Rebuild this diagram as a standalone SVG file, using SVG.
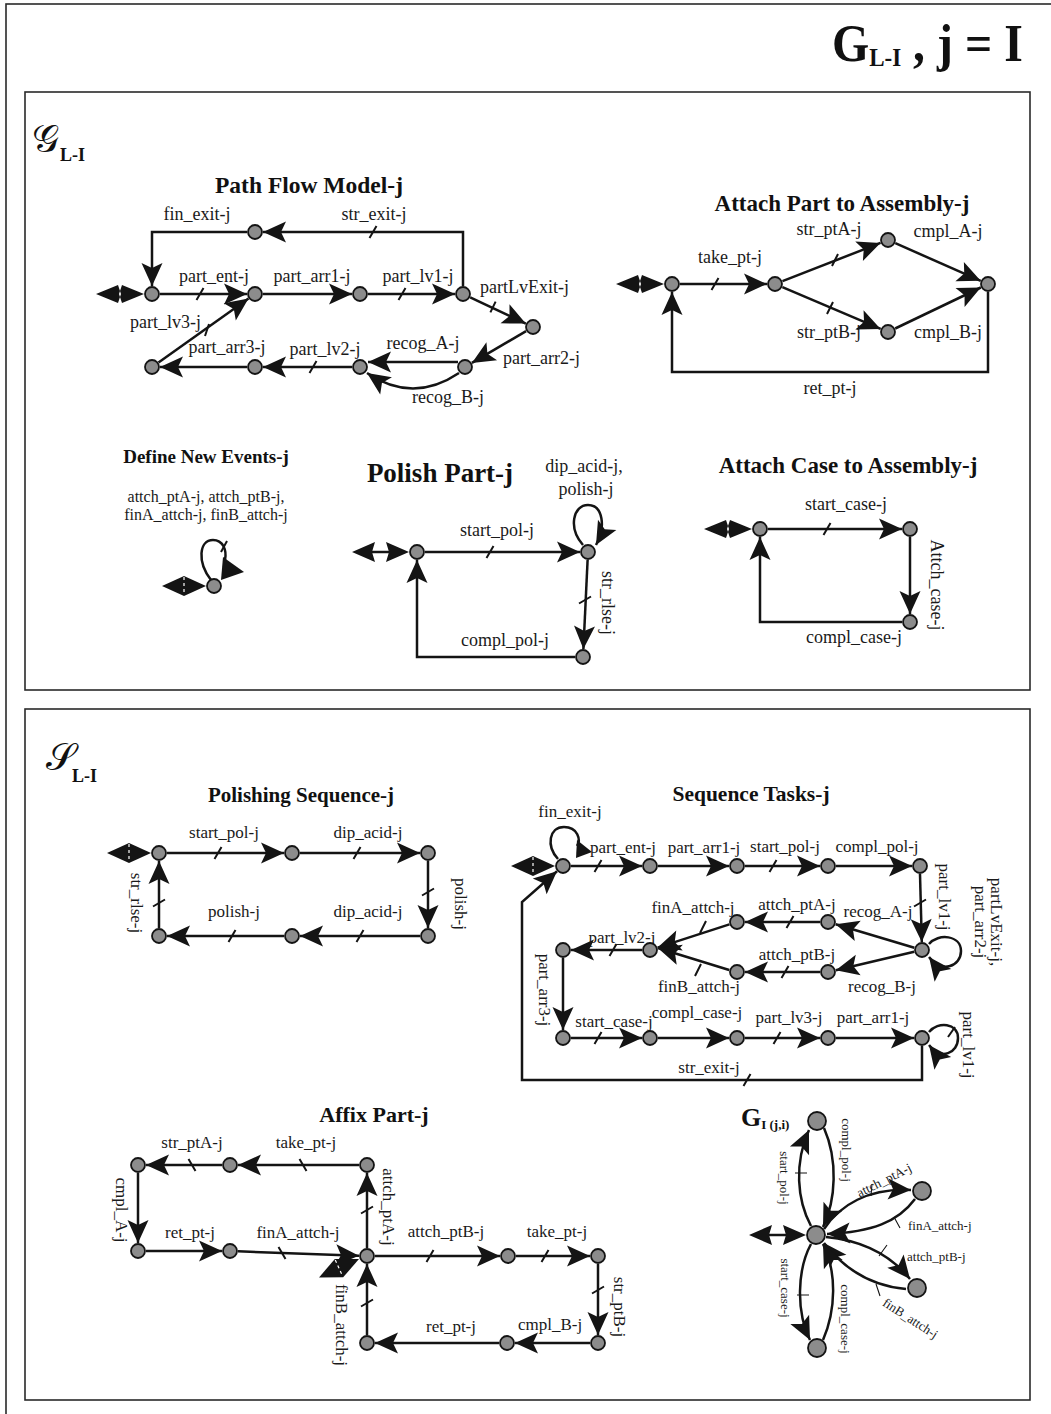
<svg xmlns="http://www.w3.org/2000/svg" width="1051" height="1414" viewBox="0 0 1051 1414">
<defs>
<style>
.ln{fill:none;stroke:#141414;stroke-width:2.5}
.tk{fill:none;stroke:#141414;stroke-width:2}
.tk1{fill:none;stroke:#141414;stroke-width:1.1}
.nd{fill:#8c8c8c;stroke:#141414;stroke-width:1.8}
.lb{font-family:"Liberation Serif","Times New Roman",serif;font-size:18px;fill:#1a1a1a}
.s17{font-size:17px}
.s16{font-size:16px}
.s13{font-size:13px}
.ti{font-family:"Liberation Serif","Times New Roman",serif;font-weight:bold;fill:#111}
.box{fill:none;stroke:#2a2a2a;stroke-width:1.6}
.m{text-anchor:middle}
.ah{fill:#141414}
</style>
<marker id="ar" markerUnits="userSpaceOnUse" markerWidth="26" markerHeight="24" viewBox="-24 -12 26 24" refX="0" refY="0" orient="auto">
<path d="M0,0 L-23,-10.5 L-18,0 L-23,10.5 Z" fill="#141414"/>
</marker>
<g id="i1"><path d="M0,0 L-22,-9 L-25,0 L-22,9 Z M-48,0 L-26,-9 L-23,0 L-26,9 Z" fill="#141414"/></g>
<g id="i2"><path d="M-57,0 L-34,-10 L-37,0 L-34,10 Z M0,0 L-23,-10 L-20,0 L-23,10 Z" fill="#141414"/><path d="M-37,0 H-20" stroke="#141414" stroke-width="2.5"/></g>
<g id="i3"><path d="M0,0 L-22,-10 L-44,0 L-22,10 Z" fill="#141414"/><path d="M-22,-9 V9" stroke="#fff" stroke-width="1.2" stroke-dasharray="3 3"/></g>
</defs>
<rect width="1051" height="1414" fill="#fff"/>

<g id="frames">
<rect class="box" x="6" y="4" width="1060" height="1420"/>
<rect class="box" x="25" y="92" width="1005" height="598"/>
<rect class="box" x="25" y="709" width="1005" height="691"/>
</g>

<g id="titles">
<g transform="translate(832,61) scale(0.92,1)">
<text class="ti" style="font-size:52px" x="0" y="0">G<tspan style="font-size:25px" dy="5">L-I</tspan><tspan dy="-5"> , j = I</tspan></text>
</g>
<text class="ti" x="32" y="152" style="font-size:38px;font-weight:normal;font-family:'DejaVu Serif','Liberation Serif',serif">𝒢</text>
<text class="ti" x="60" y="161" style="font-size:18px">L-I</text>
<text class="ti" x="46" y="770" style="font-size:38px;font-weight:normal;font-family:'DejaVu Serif','Liberation Serif',serif">𝒮</text>
<text class="ti" x="72" y="782" style="font-size:18px">L-I</text>
<text class="ti m" x="309" y="193" style="font-size:23.5px">Path Flow Model-j</text>
<text class="ti m" x="842" y="211" style="font-size:23px">Attach Part to Assembly-j</text>
<text class="ti m" x="206" y="463" style="font-size:19px">Define New Events-j</text>
<text class="ti m" x="440" y="482" style="font-size:27px">Polish Part-j</text>
<text class="ti m" x="848" y="473" style="font-size:23px">Attach Case to Assembly-j</text>
<text class="ti m" x="301" y="802" style="font-size:21px">Polishing Sequence-j</text>
<text class="ti m" x="751" y="801" style="font-size:21.5px">Sequence Tasks-j</text>
<text class="ti m" x="374" y="1122" style="font-size:22px">Affix Part-j</text>
<text class="ti" x="741" y="1126" style="font-size:26px">G<tspan style="font-size:13px" dy="3">I (j,i)</tspan></text>
</g>

<g id="connectors">
<!-- Path Flow Model -->
<use href="#i1" x="144" y="294"/>
<path class="ln" d="M160,294 H247" marker-end="url(#ar)"/>
<path class="ln" d="M263,294 H352" marker-end="url(#ar)"/>
<path class="ln" d="M368,294 H455" marker-end="url(#ar)"/>
<path class="ln" d="M470.2,297.4 L525.8,323.6" marker-end="url(#ar)"/>
<path class="ln" d="M526.1,331.1 L471.9,362.9" marker-end="url(#ar)"/>
<path class="ln" d="M458,362 H368" marker-end="url(#ar)"/>
<path class="ln" d="M459,373 Q413,404 367,373" marker-end="url(#ar)"/>
<path class="ln" d="M352,367 H263" marker-end="url(#ar)"/>
<path class="ln" d="M247,367 H160" marker-end="url(#ar)"/>
<path class="ln" d="M158.5,362.4 L248.5,298.6" marker-end="url(#ar)"/>
<path class="ln" d="M463,286 V232 H263" marker-end="url(#ar)"/>
<path class="ln" d="M247,232 H152 V286" marker-end="url(#ar)"/>
<path class="tk" d="M196.5,300 L203.5,288 M398.5,300 L405.5,288 M490.4,312.4 L495.6,301.6 M309.5,373 L316.5,361 M205,336 L209,324 M369.5,238 L376.5,226"/>

<!-- Attach Part to Assembly -->
<use href="#i1" x="664" y="284"/>
<path class="ln" d="M680,284 H767" marker-end="url(#ar)"/>
<path class="ln" d="M782.5,281.1 L880.5,242.9" marker-end="url(#ar)"/>
<path class="ln" d="M782.4,287.1 L880.6,328.9" marker-end="url(#ar)"/>
<path class="ln" d="M895.3,243.2 L980.7,280.8" marker-end="url(#ar)"/>
<path class="ln" d="M895.2,328.5 L980.8,287.5" marker-end="url(#ar)"/>
<path class="ln" d="M988,292 V372 H672 V292" marker-end="url(#ar)"/>
<path class="tk" d="M711.5,290 L718.5,278 M832,266 L838,254 M827,314 L833,302"/>

<!-- Define New Events -->
<use href="#i3" x="206" y="586"/>
<path class="ln" d="M211,580 C197,562 199,540 213,540 C223,540 227,550 225,560"/>
<polygon class="ah" points="223,557 244,572 221,580"/>
<path class="tk" d="M221,552 L227,541"/>

<!-- Polish Part -->
<use href="#i2" x="409" y="552"/>
<path class="ln" d="M425,552 H580" marker-end="url(#ar)"/>
<path class="ln" d="M583,545 C568,528 573,505 588,505 C603,505 606,527 596,545" marker-end="url(#ar)"/>
<path class="ln" d="M587.6,560 L583.4,649" marker-end="url(#ar)"/>
<path class="ln" d="M575,657 H417 V560" marker-end="url(#ar)"/>
<path class="tk" d="M486.5,558 L493.5,546 M579,603.5 L591,596.5"/>

<!-- Attach Case to Assembly -->
<use href="#i1" x="752" y="529"/>
<path class="ln" d="M768,529 H902" marker-end="url(#ar)"/>
<path class="ln" d="M910,537 V614" marker-end="url(#ar)"/>
<path class="ln" d="M902,622 H760 V537" marker-end="url(#ar)"/>
<path class="tk" d="M823.5,535 L830.5,523"/>

<!-- Polishing Sequence -->
<use href="#i3" x="151" y="853"/>
<path class="ln" d="M167,853 H284" marker-end="url(#ar)"/>
<path class="ln" d="M300,853 H420" marker-end="url(#ar)"/>
<path class="ln" d="M428,861 V928" marker-end="url(#ar)"/>
<path class="ln" d="M420,936 H300" marker-end="url(#ar)"/>
<path class="ln" d="M284,936 H167" marker-end="url(#ar)"/>
<path class="ln" d="M159,928 V861" marker-end="url(#ar)"/>
<path class="tk" d="M214.5,859 L221.5,847 M353.5,859 L360.5,847 M422,895.5 L434,888.5 M356.5,942 L363.5,930 M228.5,942 L235.5,930 M153,906.5 L165,899.5"/>

<!-- Sequence Tasks -->
<use href="#i3" x="555" y="866"/>
<path class="ln" d="M558,859 C546,846 549,827 564,827 C578,827 581,840 577,846"/>
<polygon class="ah" points="577,840 592,852 576,858"/>
<path class="ln" d="M571,866 H642" marker-end="url(#ar)"/>
<path class="ln" d="M658,866 H729" marker-end="url(#ar)"/>
<path class="ln" d="M745,866 H820" marker-end="url(#ar)"/>
<path class="ln" d="M836,866 H912" marker-end="url(#ar)"/>
<path class="ln" d="M920,874 L921.8,942" marker-end="url(#ar)"/>
<path class="ln" d="M929,944 C938,933 961,935 961,951 C961,966 942,974 929,957" marker-end="url(#ar)"/>
<path class="ln" d="M914.3,947.7 L835.7,924.3" marker-end="url(#ar)"/>
<path class="ln" d="M914.2,951.8 L835.8,970.2" marker-end="url(#ar)"/>
<path class="ln" d="M820,922 H745" marker-end="url(#ar)"/>
<path class="ln" d="M820,972 H745" marker-end="url(#ar)"/>
<path class="ln" d="M729.4,924.4 L657.6,947.6" marker-end="url(#ar)"/>
<path class="ln" d="M729.2,970 L657.8,948" marker-end="url(#ar)"/>
<path class="ln" d="M642,950 H571" marker-end="url(#ar)"/>
<path class="ln" d="M563,958 V1030" marker-end="url(#ar)"/>
<path class="ln" d="M571,1038 H642" marker-end="url(#ar)"/>
<path class="ln" d="M658,1038 H729" marker-end="url(#ar)"/>
<path class="ln" d="M745,1038 H820" marker-end="url(#ar)"/>
<path class="ln" d="M836,1038 H914" marker-end="url(#ar)"/>
<path class="ln" d="M929,1032 C938,1021 958,1023 958,1038 C958,1053 941,1061 929,1045" marker-end="url(#ar)"/>
<path class="ln" d="M922,1046 V1080 H522 V902 L557,871.3" marker-end="url(#ar)"/>
<path class="tk" d="M594.5,872 L601.5,860 M769.5,872 L776.5,860 M914,906.5 L926,899.5 M786.5,928 L793.5,916 M781.5,978 L788.5,966 M700,933 L706,921 M695,976 L701,964 M609.5,956 L616.5,944 M594.5,1044 L601.5,1032 M773.5,1044 L780.5,1032 M743.5,1086 L750.5,1074 M948,1037 L955,1027"/>

<!-- Affix Part -->
<path class="ln" d="M359,1165 H238" marker-end="url(#ar)"/>
<path class="ln" d="M222,1165 H146" marker-end="url(#ar)"/>
<path class="ln" d="M138,1173 V1243" marker-end="url(#ar)"/>
<path class="ln" d="M146,1251 H222" marker-end="url(#ar)"/>
<path class="ln" d="M238,1251.3 L359,1255.7" marker-end="url(#ar)"/>
<path class="ln" d="M367,1248 V1173" marker-end="url(#ar)"/>
<path class="ln" d="M375,1256 H500" marker-end="url(#ar)"/>
<path class="ln" d="M516,1256 H590" marker-end="url(#ar)"/>
<path class="ln" d="M598,1264 V1335" marker-end="url(#ar)"/>
<path class="ln" d="M590,1343 H515" marker-end="url(#ar)"/>
<path class="ln" d="M499,1343 H375" marker-end="url(#ar)"/>
<path class="ln" d="M367,1335 V1264" marker-end="url(#ar)"/>
<use href="#i3" transform="translate(359,1259) rotate(-24.7)"/>
<path class="tk" d="M299.5,1159 L306.5,1171 M188.5,1159 L195.5,1171 M278.5,1247 L285.5,1259 M361,1213.5 L373,1206.5 M361,1306.5 L373,1299.5 M426.5,1262 L433.5,1250 M541.5,1262 L548.5,1250 M592,1293.5 L604,1286.5"/>

<!-- G_I (j,i) -->
<use href="#i2" x="806" y="1235"/>
<path class="ln" d="M811,1226 C797,1200 794,1163 809,1130" marker-end="url(#ar)"/>
<path class="ln" d="M824,1128 C838,1160 836,1200 823,1227" marker-end="url(#ar)"/>
<path class="ln" d="M824,1229 C840,1205 868,1188 911,1190" marker-end="url(#ar)"/>
<path class="ln" d="M915,1199 C898,1222 872,1232 827,1234" marker-end="url(#ar)"/>
<path class="ln" d="M826,1237 C858,1240 888,1252 910,1279" marker-end="url(#ar)"/>
<path class="ln" d="M906,1289 C872,1286 845,1270 824,1243" marker-end="url(#ar)"/>
<path class="ln" d="M811,1244 C797,1270 796,1312 810,1340" marker-end="url(#ar)"/>
<path class="ln" d="M823,1340 C836,1310 837,1272 823,1244" marker-end="url(#ar)"/>
<path class="tk1" d="M795,1173 H807 M872,1184 L871,1196 M894,1217 L900,1228 M879,1256 L887,1245 M876,1284 L880,1296 M797,1295 H809"/>
</g>

<g id="edge-labels" class="lb">
<!-- Path Flow -->
<text class="m" x="197" y="220">fin_exit-j</text>
<text class="m" x="374" y="220">str_exit-j</text>
<text class="m" x="214" y="282">part_ent-j</text>
<text class="m" x="312" y="282">part_arr1-j</text>
<text class="m" x="418" y="282">part_lv1-j</text>
<text x="480" y="293">partLvExit-j</text>
<text x="503" y="364">part_arr2-j</text>
<text x="130" y="328">part_lv3-j</text>
<text class="m" x="227" y="353">part_arr3-j</text>
<text class="m" x="325" y="355">part_lv2-j</text>
<text class="m" x="423" y="349">recog_A-j</text>
<text class="m" x="448" y="403">recog_B-j</text>
<!-- Attach Part -->
<text class="m" x="730" y="263">take_pt-j</text>
<text class="m" x="829" y="235">str_ptA-j</text>
<text class="m" x="829" y="338">str_ptB-j</text>
<text class="m" x="948" y="237">cmpl_A-j</text>
<text class="m" x="948" y="338">cmpl_B-j</text>
<text class="m" x="830" y="394">ret_pt-j</text>
<!-- Define New Events -->
<text class="m s16" x="206" y="502">attch_ptA-j, attch_ptB-j,</text>
<text class="m s16" x="206" y="520">finA_attch-j, finB_attch-j</text>
<!-- Polish Part -->
<text class="m" x="584" y="472">dip_acid-j,</text>
<text class="m" x="586" y="495">polish-j</text>
<text class="m" x="497" y="536">start_pol-j</text>
<text class="m" transform="translate(602,603) rotate(90)">str_rlse-j</text>
<text class="m" x="505" y="646">compl_pol-j</text>
<!-- Attach Case -->
<text class="m" x="846" y="510">start_case-j</text>
<text class="m" transform="translate(931,585) rotate(90)">Attch_case-j</text>
<text class="m" x="854" y="643">compl_case-j</text>
<!-- Polishing Sequence -->
<g class="s17">
<text class="m" x="224" y="838">start_pol-j</text>
<text class="m" x="368" y="838">dip_acid-j</text>
<text class="m" transform="translate(455,904) rotate(90)">polish-j</text>
<text class="m" x="234" y="917">polish-j</text>
<text class="m" x="368" y="917">dip_acid-j</text>
<text class="m" transform="translate(131,903) rotate(90)">str_rlse-j</text>
</g>
<!-- Sequence Tasks -->
<g class="s17">
<text class="m" x="570" y="817">fin_exit-j</text>
<text class="m" x="623" y="853">part_ent-j</text>
<text class="m" x="704" y="853">part_arr1-j</text>
<text class="m" x="785" y="852">start_pol-j</text>
<text class="m" x="877" y="852">compl_pol-j</text>
<text class="m" transform="translate(939,897) rotate(90)">part_lv1-j</text>
<text class="m" transform="translate(991,922) rotate(90)">partLvExit-j,</text>
<text class="m" transform="translate(975,922) rotate(90)">part_arr2-j</text>
<text class="m" x="878" y="917">recog_A-j</text>
<text class="m" x="882" y="992">recog_B-j</text>
<text class="m" x="797" y="910">attch_ptA-j</text>
<text class="m" x="797" y="960">attch_ptB-j</text>
<text class="m" x="693" y="913">finA_attch-j</text>
<text class="m" x="699" y="992">finB_attch-j</text>
<text class="m" x="622" y="943">part_lv2-j</text>
<text class="m" transform="translate(539,990) rotate(90)">part_arr3-j</text>
<text class="m" x="614" y="1027">start_case-j</text>
<text class="m" x="697" y="1018">compl_case-j</text>
<text class="m" x="789" y="1023">part_lv3-j</text>
<text class="m" x="873" y="1023">part_arr1-j</text>
<text class="m" transform="translate(963,1045) rotate(90)">part_lv1-j</text>
<text class="m" x="709" y="1073">str_exit-j</text>
</g>
<!-- Affix Part -->
<g class="s17">
<text class="m" x="306" y="1148">take_pt-j</text>
<text class="m" x="192" y="1148">str_ptA-j</text>
<text class="m" transform="translate(116,1210) rotate(90)">cmpl_A-j</text>
<text class="m" x="190" y="1238">ret_pt-j</text>
<text class="m" x="298" y="1238">finA_attch-j</text>
<text class="m" transform="translate(383,1207) rotate(90)">attch_ptA-j</text>
<text class="m" x="446" y="1237">attch_ptB-j</text>
<text class="m" x="557" y="1237">take_pt-j</text>
<text class="m" transform="translate(614,1307) rotate(90)">str_ptB-j</text>
<text class="m" x="550" y="1330">cmpl_B-j</text>
<text class="m" x="451" y="1332">ret_pt-j</text>
<text class="m" transform="translate(336,1325) rotate(90)">finB_attch-j</text>
</g>
<!-- G_I -->
<g class="s13">
<text class="m" transform="translate(780,1178) rotate(90)">start_pol-j</text>
<text class="m" transform="translate(842,1150) rotate(90)">compl_pol-j</text>
<text class="m" transform="translate(886,1184) rotate(-27)">attch_ptA-j</text>
<text x="908" y="1230">finA_attch-j</text>
<text x="907" y="1261">attch_ptB-j</text>
<text class="m" transform="translate(908,1322) rotate(33)">finB_attch-j</text>
<text class="m" transform="translate(781,1288) rotate(90)">start_case-j</text>
<text class="m" transform="translate(841,1319) rotate(90)">compl_case-j</text>
</g>
</g>

<g id="nodes">
<g id="pf-n0"><circle class="nd" cx="152" cy="294" r="7"/></g>
<g id="pf-n1"><circle class="nd" cx="255" cy="294" r="7"/></g>
<g id="pf-n2"><circle class="nd" cx="360" cy="294" r="7"/></g>
<g id="pf-n3"><circle class="nd" cx="463" cy="294" r="7"/></g>
<g id="pf-n4"><circle class="nd" cx="533" cy="327" r="7"/></g>
<g id="pf-n5"><circle class="nd" cx="465" cy="367" r="7"/></g>
<g id="pf-n6"><circle class="nd" cx="360" cy="367" r="7"/></g>
<g id="pf-n7"><circle class="nd" cx="255" cy="367" r="7"/></g>
<g id="pf-n8"><circle class="nd" cx="152" cy="367" r="7"/></g>
<g id="pf-n9"><circle class="nd" cx="255" cy="232" r="7"/></g>
<g id="ap-n0"><circle class="nd" cx="672" cy="284" r="7"/></g>
<g id="ap-n1"><circle class="nd" cx="775" cy="284" r="7"/></g>
<g id="ap-n2"><circle class="nd" cx="888" cy="240" r="7"/></g>
<g id="ap-n3"><circle class="nd" cx="888" cy="332" r="7"/></g>
<g id="ap-n4"><circle class="nd" cx="988" cy="284" r="7"/></g>
<g id="de-n0"><circle class="nd" cx="214" cy="586" r="7"/></g>
<g id="pp-n0"><circle class="nd" cx="417" cy="552" r="7"/></g>
<g id="pp-n1"><circle class="nd" cx="588" cy="552" r="7"/></g>
<g id="pp-n2"><circle class="nd" cx="583" cy="657" r="7"/></g>
<g id="ac-n0"><circle class="nd" cx="760" cy="529" r="7"/></g>
<g id="ac-n1"><circle class="nd" cx="910" cy="529" r="7"/></g>
<g id="ac-n2"><circle class="nd" cx="910" cy="622" r="7"/></g>
<g id="ps-n0"><circle class="nd" cx="159" cy="853" r="7"/></g>
<g id="ps-n1"><circle class="nd" cx="292" cy="853" r="7"/></g>
<g id="ps-n2"><circle class="nd" cx="428" cy="853" r="7"/></g>
<g id="ps-n3"><circle class="nd" cx="428" cy="936" r="7"/></g>
<g id="ps-n4"><circle class="nd" cx="292" cy="936" r="7"/></g>
<g id="ps-n5"><circle class="nd" cx="159" cy="936" r="7"/></g>
<g id="st-n0"><circle class="nd" cx="563" cy="866" r="7"/></g>
<g id="st-n1"><circle class="nd" cx="650" cy="866" r="7"/></g>
<g id="st-n2"><circle class="nd" cx="737" cy="866" r="7"/></g>
<g id="st-n3"><circle class="nd" cx="828" cy="866" r="7"/></g>
<g id="st-n4"><circle class="nd" cx="920" cy="866" r="7"/></g>
<g id="st-n5"><circle class="nd" cx="922" cy="950" r="7"/></g>
<g id="st-n6"><circle class="nd" cx="828" cy="922" r="7"/></g>
<g id="st-n7"><circle class="nd" cx="828" cy="972" r="7"/></g>
<g id="st-n8"><circle class="nd" cx="737" cy="922" r="7"/></g>
<g id="st-n9"><circle class="nd" cx="737" cy="972" r="7"/></g>
<g id="st-n10"><circle class="nd" cx="650" cy="950" r="7"/></g>
<g id="st-n11"><circle class="nd" cx="563" cy="950" r="7"/></g>
<g id="st-n12"><circle class="nd" cx="563" cy="1038" r="7"/></g>
<g id="st-n13"><circle class="nd" cx="650" cy="1038" r="7"/></g>
<g id="st-n14"><circle class="nd" cx="737" cy="1038" r="7"/></g>
<g id="st-n15"><circle class="nd" cx="828" cy="1038" r="7"/></g>
<g id="st-n16"><circle class="nd" cx="922" cy="1038" r="7"/></g>
<g id="af-n0"><circle class="nd" cx="367" cy="1165" r="7"/></g>
<g id="af-n1"><circle class="nd" cx="230" cy="1165" r="7"/></g>
<g id="af-n2"><circle class="nd" cx="138" cy="1165" r="7"/></g>
<g id="af-n3"><circle class="nd" cx="138" cy="1251" r="7"/></g>
<g id="af-n4"><circle class="nd" cx="230" cy="1251" r="7"/></g>
<g id="af-n5"><circle class="nd" cx="367" cy="1256" r="7"/></g>
<g id="af-n6"><circle class="nd" cx="367" cy="1343" r="7"/></g>
<g id="af-n7"><circle class="nd" cx="508" cy="1256" r="7"/></g>
<g id="af-n8"><circle class="nd" cx="598" cy="1256" r="7"/></g>
<g id="af-n9"><circle class="nd" cx="598" cy="1343" r="7"/></g>
<g id="af-n10"><circle class="nd" cx="507" cy="1343" r="7"/></g>
<g id="gi-n0"><circle class="nd" cx="816" cy="1235" r="9"/></g>
<g id="gi-n1"><circle class="nd" cx="817" cy="1121" r="9"/></g>
<g id="gi-n2"><circle class="nd" cx="922" cy="1191" r="9"/></g>
<g id="gi-n3"><circle class="nd" cx="917" cy="1288" r="9"/></g>
<g id="gi-n4"><circle class="nd" cx="817" cy="1348" r="9"/></g>
</g>
</svg>
